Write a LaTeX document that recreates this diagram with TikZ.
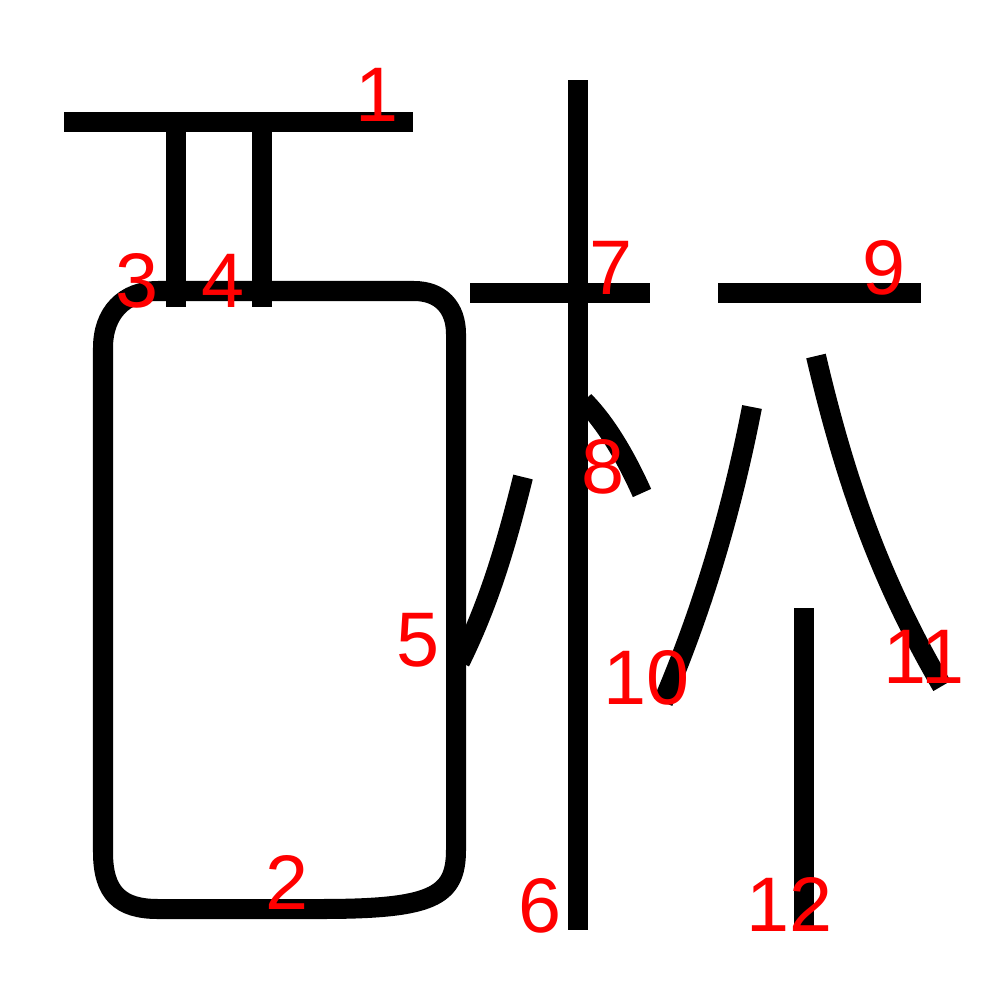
\documentclass[tikz,border=0pt]{standalone}
\usepackage{fontspec}
\usepackage{xcolor}
\newfontfamily\labfont{Liberation Sans}
\usetikzlibrary{calc}

\begin{document}
\begin{tikzpicture}[x=0.01cm, y=-0.01cm,
    stroke/.style={draw=black, line width=0.2cm, line cap=butt},
    num/.style={text=red, font=\labfont\fontsize{22}{22}\selectfont, inner sep=0pt}]
    \useasboundingbox (0,0) rectangle (1000,1000);
    % top bar and the two short downstrokes
    \draw[stroke] (64,122) -- (413,122);
    \draw[stroke] (176,122) -- (176,307);
    \draw[stroke] (262,122) -- (262,307);
    % body
    \draw[stroke] (103,348) .. controls (103,313) and (124,291) .. (158,291) -- (414,291)
        .. controls (440,291) and (456,307) .. (456,334) -- (456,850)
        .. controls (456,897) and (432,909) .. (320,909) -- (158,909)
        .. controls (120,909) and (103,893) .. (103,852) -- cycle;
    % side sweep
    \draw[stroke] (523,477) .. controls (505,550) and (488,605) .. (460,662);
    % middle column
    \draw[stroke] (578,80) -- (578,930);
    \draw[stroke] (470,293) -- (650,293);
    \draw[stroke] (584,401) .. controls (605,422) and (625,455) .. (642,493);
    % right part
    \draw[stroke] (718,293) -- (921,293);
    \draw[stroke] (752,407) .. controls (730,520) and (700,615) .. (663,702);
    \draw[stroke] (816,356) .. controls (845,480) and (880,580) .. (942,686);
    \draw[stroke] (804,608) -- (804,930);
    % order numbers
    \node[num] (n1) at (377,95) {1};
    \node[num] (n2) at (287,882) {2};
    \node[num] (n3) at (137,281) {3};
    \node[num] (n4) at (223,281) {4};
    \node[num] (n5) at (418,640) {5};
    \node[num] (n6) at (540,906) {6};
    \node[num] (n7) at (611,268) {7};
    \node[num] (n8) at (603,467) {8};
    \node[num] (n9) at (884,268) {9};
    \node[num] (n10) at (647,678) {10};
    \node[num] (n11) at (924,657) {11};
    \node[num] (n12) at (790,904) {12};
\end{tikzpicture}
\end{document}
